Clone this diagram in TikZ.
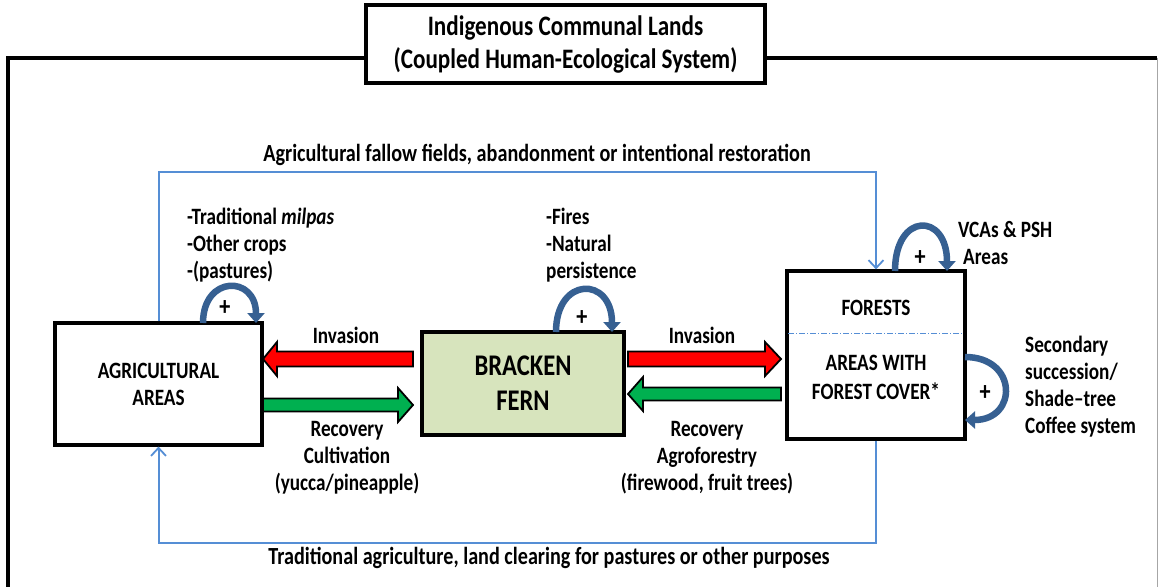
\documentclass[tikz,border=0pt]{standalone}
\usepackage{fontspec}
\setmainfont[FakeStretch=0.82]{Carlito}
\usetikzlibrary{arrows.meta}
\definecolor{lineblue}{RGB}{85,142,213}
\definecolor{arcblue}{RGB}{54,96,146}
\definecolor{arrred}{RGB}{255,0,0}
\definecolor{arrgreen}{RGB}{0,176,80}
\definecolor{fernfill}{RGB}{215,228,189}
\newcommand\blockarrow[6]{% tail, headbase, tip, y, shafthalf, color
  \filldraw[fill=#6, draw=black, line width=1.8pt, line join=miter]
    (#1,#4-#5) -- (#2,#4-#5) -- (#2,#4-17) -- (#3,#4) -- (#2,#4+17)
    -- (#2,#4+#5) -- (#1,#4+#5) -- cycle;}
\begin{document}
\begin{tikzpicture}[x=1pt,y=-1pt,
  lbl/.style={font=\bfseries\fontsize{23.4}{27}\selectfont, align=center, inner sep=0pt},
  lbll/.style={lbl, align=left, anchor=west},
  boxnode/.style={draw=black, line width=3.2pt, inner sep=0pt},
  blueline/.style={draw=lineblue, line width=2pt},
  bluetip/.style={-{Straight Barb[length=8pt,width=15pt,line width=1.8pt]}},
  arcarrow/.style={draw=arcblue, line width=6.5pt, -{Triangle[width=17pt,length=10pt]}},
  plussign/.style={font=\bfseries\fontsize{27}{28}\selectfont, inner sep=0pt}]
\useasboundingbox (0,0) rectangle (1158,586);
\fill[white] (0,0) rectangle (1158,586);
% outer frame
\draw[line width=3.2pt] (8,600) -- (8,58) -- (1157,58);
\draw[gray!70, line width=0.8pt] (1157,58) -- (1157,600);
% title
\node[boxnode, fill=white, minimum width=399pt, minimum height=78pt,
      font=\bfseries\fontsize{28.2}{33}\selectfont, align=center] (title) at (565.5,44)
  {Indigenous Communal Lands\\(Coupled Human-Ecological System)};
% main boxes
\node[boxnode, minimum width=207pt, minimum height=122pt, lbl] (agri) at (158.5,384)
  {AGRICULTURAL\\AREAS};
\node[boxnode, fill=fernfill, minimum width=202pt, minimum height=103pt,
      font=\bfseries\fontsize{30}{35}\selectfont, align=center] (fern) at (523,383.5)
  {BRACKEN\\FERN};
\node[boxnode, minimum width=178pt, minimum height=168pt] (forest) at (876,355) {};
\node[lbl] (forestlbl) at (876,308) {FORESTS};
\node[lbl, font=\bfseries\fontsize{23.4}{29}\selectfont] (coverlbl) at (876,377.5) {AREAS WITH\\FOREST COVER*};
\draw[lineblue, line width=1pt, dash pattern=on 6pt off 2pt on 1pt off 2pt]
  ([xshift=3pt]forest.west |- 0,333) -- ([xshift=-3pt]forest.east |- 0,333);
% block arrows
\blockarrow{413}{277}{263}{359}{7.5}{arrred}
\blockarrow{263}{398}{413}{405}{6.5}{arrgreen}
\blockarrow{628}{765}{781}{359}{7.5}{arrred}
\blockarrow{781}{643}{628}{394}{6.5}{arrgreen}
\node[lbl] (inv1) at (346,335) {Invasion};
\node[lbl] (inv2) at (702,335) {Invasion};
\node[lbl] (rec1) at (347,458) {Recovery\\Cultivation\\(yucca/pineapple)};
\node[lbl] (rec2) at (707,458) {Recovery\\Agroforestry\\(firewood, fruit trees)};
% blue loops
\draw[blueline, bluetip] (agri.north) -- (agri.north |- 0,172) -| (forest.north);
\draw[blueline, bluetip] (forest.south) -- (forest.south |- 0,543) -| (agri.south);
\node[lbl, font=\bfseries\fontsize{24.6}{27}\selectfont] (toplbl) at (537,155) {Agricultural fallow fields, abandonment or intentional restoration};
\node[lbl, font=\bfseries\fontsize{24.6}{27}\selectfont] (botlbl) at (549,558) {Traditional agriculture, land clearing for pastures or other purposes};
% self loops
\draw[arcarrow] (203,323) .. controls (203,275) and (256,275) .. (256,323);
\draw[arcarrow] (556,332) .. controls (556,276) and (612,276) .. (612,332);
\draw[arcarrow] (895,271) .. controls (895,212) and (947,212) .. (947,271);
\draw[arcarrow] (965,357) .. controls (1018,357) and (1018,420) .. (965,420);
\node[plussign] (p1) at (225,308) {+};
\node[plussign] (p2) at (582,318) {+};
\node[plussign] (p3) at (920,258) {+};
\node[plussign] (p4) at (985,393) {+};
% side texts
\node[lbll] (agrilist) at (187,245.5) {-Traditional \textit{milpas}\\-Other crops\\-(pastures)};
\node[lbll] (fernlist) at (546,245.5) {-Fires\\-Natural\\persistence};
\node[lbll] (vcas) at (958,243) {VCAs \& PSH\\\hspace*{5pt}Areas};
\node[lbll] (secsucc) at (1025,386.5) {Secondary\\succession/\\Shade--tree\\Coffee system};
\end{tikzpicture}
\end{document}
